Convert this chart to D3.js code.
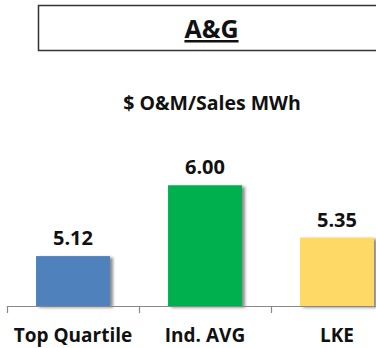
<!DOCTYPE html>
<html>
<head>
<meta charset="utf-8">
<script src="https://cdn.jsdelivr.net/npm/d3@7"></script>
<style>
  html, body { margin: 0; padding: 0; background: #fff; }
  svg { display: block; }
  text { font-family: "Open Sans", "DejaVu Sans", sans-serif; font-weight: 700; fill: #111; }
</style>
</head>
<body>
<svg id="chart" width="376" height="348"></svg>
<script>
// A&G cost per sales MWh
const categories = ["Top Quartile", "Ind. AVG", "LKE"];
const values = [5.12, 6.00, 5.35];
const colors = ["#4F81BD", "#00B050", "#FFD966"];
const title = "A&G";
const subtitle = "$ O&M/Sales MWh";

const svg = d3.select("#chart");
const W = 376, H = 348;

// Drop shadow for the bars
const defs = svg.append("defs");
const f = defs.append("filter").attr("id", "shadow")
  .attr("x", "-10%").attr("y", "-10%").attr("width", "130%").attr("height", "120%");
f.append("feDropShadow").attr("dx", 3).attr("dy", 1.5)
  .attr("stdDeviation", 1.8).attr("flood-color", "#000").attr("flood-opacity", 0.45);

// Title box
svg.append("rect")
  .attr("x", 38.5).attr("y", 5.5).attr("width", 350).attr("height", 45)
  .attr("fill", "none").attr("stroke", "#333").attr("stroke-width", 1.5);
svg.append("text")
  .attr("x", 211.5).attr("y", 38)
  .attr("text-anchor", "middle")
  .style("font-size", "25px")
  .style("text-decoration", "underline")
  .text(title);

svg.append("text")
  .attr("x", 212).attr("y", 110)
  .attr("text-anchor", "middle")
  .style("font-size", "19.5px")
  .text(subtitle);

// Scales
const x = d3.scaleBand().domain(categories).range([7, 403])
  .paddingInner(0.44).paddingOuter(0.22);
const y = d3.scaleLinear().domain([4.5, 6.5]).range([306, 145]);
const gap = (x.step() - x.bandwidth()) / 2;

// Bars
svg.append("g").selectAll("rect").data(values).join("rect")
  .attr("x", (d, i) => x(categories[i]))
  .attr("y", d => y(d))
  .attr("width", x.bandwidth())
  .attr("height", d => y.range()[0] - y(d))
  .attr("fill", (d, i) => colors[i])
  .attr("filter", "url(#shadow)");

// Value labels
svg.append("g").selectAll("text").data(values).join("text")
  .attr("x", (d, i) => x(categories[i]) + x.bandwidth() / 2)
  .attr("y", d => y(d) - 11)
  .attr("text-anchor", "middle")
  .style("font-size", "20px")
  .text(d => d.toFixed(2));

// Category axis with ticks between bands
const axis = svg.append("g");
axis.append("line")
  .attr("x1", 7).attr("x2", W).attr("y1", 306.5).attr("y2", 306.5)
  .attr("stroke", "#888").attr("stroke-width", 1.2);
axis.selectAll("line.tick").data(categories).join("line")
  .attr("class", "tick")
  .attr("x1", c => x(c) - gap + 0.5).attr("x2", c => x(c) - gap + 0.5)
  .attr("y1", 306).attr("y2", 313)
  .attr("stroke", "#888").attr("stroke-width", 1.2);
axis.selectAll("text").data(categories).join("text")
  .attr("x", c => x(c) + x.bandwidth() / 2)
  .attr("y", 342)
  .attr("text-anchor", "middle")
  .style("font-size", "19px")
  .text(c => c);
</script>
</body>
</html>
